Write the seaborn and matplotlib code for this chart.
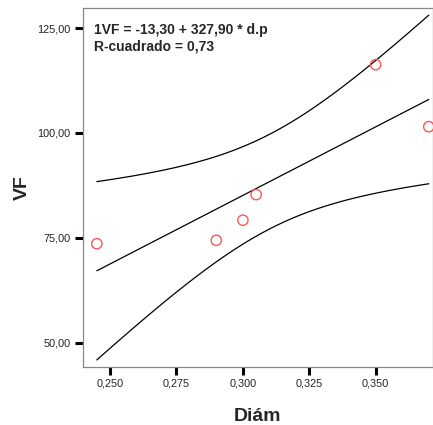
import numpy as np
import pandas as pd
import matplotlib
matplotlib.use("Agg")
import matplotlib.pyplot as plt
import seaborn as sns

# Data
diam = [0.245, 0.290, 0.300, 0.305, 0.350, 0.370]
vf = [73.6, 74.4, 79.2, 85.3, 116.3, 101.5]

x_ticks = [0.250, 0.275, 0.300, 0.325, 0.350]
x_tick_labels = ["0,250", "0,275", "0,300", "0,325", "0,350"]
y_ticks = [50, 75, 100, 125]
y_tick_labels = ["50,00", "75,00", "100,00", "125,00"]

eq_text = "1VF = -13,30 + 327,90 * d.p"
r2_text = "R-cuadrado = 0,73"
t_crit = 2.776  # t(0.975, df=4)

sns.set_style("white")
plt.rcParams["font.family"] = ["Liberation Sans", "DejaVu Sans"]

x = np.array(diam)
y = np.array(vf)
n = len(x)
b1, b0 = np.polyfit(x, y, 1)
resid = y - (b0 + b1 * x)
s = np.sqrt(np.sum(resid ** 2) / (n - 2))
sxx = np.sum((x - x.mean()) ** 2)
xg = np.linspace(x.min(), x.max(), 120)
yhat = b0 + b1 * xg
half = t_crit * s * np.sqrt(1 / n + (xg - x.mean()) ** 2 / sxx)

df_pts = pd.DataFrame({"Diám": diam, "VF": vf})
df_fit = pd.DataFrame({"x": np.concatenate([xg, xg, xg]),
                       "y": np.concatenate([yhat, yhat + half, yhat - half]),
                       "g": ["fit"] * len(xg) + ["up"] * len(xg) + ["lo"] * len(xg)})

fig = plt.figure(figsize=(4.33, 4.25), dpi=100)
ax = fig.add_axes([82.5 / 433, 1 - 367 / 425, 1 - 82.5 / 433, (367 - 8) / 425])

sns.lineplot(data=df_fit, x="x", y="y", units="g", estimator=None, color="black",
             linewidth=0.9, ax=ax, legend=False, sort=False)
sns.scatterplot(data=df_pts, x="Diám", y="VF", ax=ax, s=55, facecolor="none",
                edgecolor="#ff5555", linewidth=1.0, marker="o", zorder=5)

ax.set_xlim(0.2396, 0.3716)
ax.set_ylim(44.2, 129.8)
ax.set_xticks(x_ticks)
ax.set_xticklabels(x_tick_labels)
ax.set_yticks(y_ticks)
ax.set_yticklabels(y_tick_labels)
ax.tick_params(axis="both", which="major", bottom=True, left=True, direction="out",
               length=6, width=2.2, color="black",
               labelsize=7.8, labelcolor="#222222", pad=2.5)
for sp in ax.spines.values():
    sp.set_color("#888888")
    sp.set_linewidth(0.9)

ax.set_xlabel("Diám", fontsize=14, fontweight="bold", labelpad=14)
ax.set_ylabel("VF", fontsize=14, fontweight="bold", labelpad=5)

ax.text(0.033, 0.94, eq_text, transform=ax.transAxes, fontsize=10,
        fontweight="bold", ha="left", va="center")
ax.text(0.033, 0.893, r2_text, transform=ax.transAxes, fontsize=10,
        fontweight="bold", ha="left", va="center")

fig.savefig("out.png", dpi=100)
